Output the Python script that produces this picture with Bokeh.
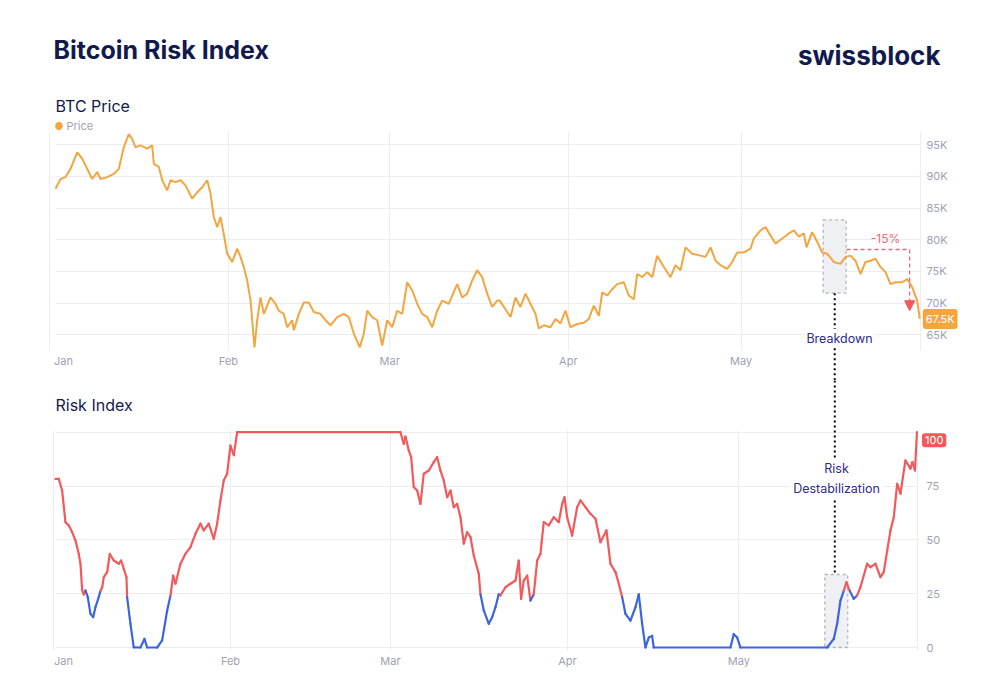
import numpy as np
from bokeh.plotting import figure
from bokeh.models import (Range1d, FixedTicker, CustomJSTickFormatter, Label,
                          BoxAnnotation, Arrow, NormalHead, ColumnDataSource)
from bokeh.layouts import column
from bokeh.embed import file_html
from bokeh.resources import INLINE

# ---------------- data (days since Jan 1) ----------------
month_labels = ["Jan", "Feb", "Mar", "Apr", "May"]
month_days = [0, 31, 59, 90, 120]

price_day = [0.97, 1.84, 2.71, 3.58, 4.74, 5.61, 6.48, 7.34, 8.21, 8.78, 9.95, 11.09, 11.96,
             12.83, 13.70, 14.29, 14.86, 15.73, 16.89, 17.76, 18.04, 18.91, 19.50, 20.36,
             20.94, 21.81, 22.67, 23.54, 24.70, 25.57, 26.44, 27.31, 27.88, 28.45, 29.05,
             29.62, 30.19, 30.78, 31.65, 32.52, 33.09, 33.66, 34.25, 34.83, 35.52, 35.99,
             36.56, 37.14, 38.30, 39.17, 39.74, 40.61, 41.20, 42.07, 42.34, 43.21, 44.08,
             44.95, 45.82, 46.98, 47.85, 48.72, 49.88, 51.02, 51.89, 52.76, 53.80, 54.50,
             55.09, 55.95, 56.82, 57.69, 58.56, 59.43, 60.30, 61.16, 62.03, 62.90, 63.77,
             64.64, 65.50, 66.37, 67.24, 68.11, 69.25, 70.71, 71.58, 72.45, 73.32, 74.18,
             75.05, 75.92, 76.79, 77.66, 78.10, 79.97, 80.83, 81.70, 82.57, 83.44, 84.31,
             84.88, 85.75, 86.91, 87.78, 88.65, 89.51, 90.38, 91.55, 92.69, 93.56, 94.43,
             95.30, 95.89, 96.75, 97.62, 98.49, 99.64, 100.50, 101.37, 101.96, 102.83,
             103.70, 104.57, 105.43, 106.58, 107.74, 108.61, 109.48, 110.35, 111.51,
             112.95, 113.82, 114.69, 115.56, 116.42, 117.59, 118.45, 119.32, 120.47,
             121.63, 122.20, 123.37, 124.24, 125.10, 125.97, 127.14, 128.28, 129.15,
             130.02, 130.89, 131.35, 132.34, 133.21, 134.08, 134.95, 136.10, 137.26,
             138.13, 139.00, 139.86, 140.73, 141.60, 142.47, 143.33, 144.20, 145.07,
             145.94, 146.81, 147.97, 148.84, 149.71, 150.57, 151.02]
price_k = [88.05, 89.6, 89.9, 91.2, 93.8, 92.8, 91.2, 89.6, 90.7, 89.6, 89.9, 90.4, 91.2,
           94.6, 96.7, 95.9, 94.6, 94.9, 94.4, 94.9, 92.0, 91.5, 89.4, 87.8,
           89.4, 89.1, 89.4, 88.6, 86.5, 87.5, 88.3, 89.4, 87.3, 83.6, 82.0,
           83.6, 80.9, 77.8, 76.5, 78.6, 77.3, 75.7, 73.6, 70.4, 63.0, 67.3,
           70.9, 68.3, 70.9, 69.9, 68.8, 68.3, 66.2, 67.3, 65.7, 68.3, 70.1,
           70.1, 68.6, 68.3, 67.3, 66.5, 67.8, 68.3, 67.8, 65.2, 63.0, 65.2,
           68.8, 67.8, 67.3, 63.3, 67.3, 66.2, 68.8, 68.3, 73.3, 72.0, 69.9,
           68.3, 67.8, 66.2, 68.8, 70.4, 69.9, 73.0, 70.9, 71.5, 73.6, 75.2,
           74.1, 71.5, 69.4, 70.4, 70.4, 67.8, 70.9, 69.4, 71.5, 69.9, 68.3,
           66.0, 66.5, 66.2, 67.5, 66.8, 68.8, 66.2, 66.7, 66.9, 67.5, 69.6,
           68.0, 71.7, 71.2, 72.2, 73.0, 73.3, 71.2, 70.6, 74.6, 74.1,
           74.9, 74.1, 77.5, 75.7, 74.1, 76.0, 75.2, 78.8, 77.8,
           77.5, 77.3, 78.8, 76.7, 76.0, 75.4, 76.5, 78.0, 78.0,
           78.6, 80.2, 81.5, 82.0, 80.7, 79.4, 80.2, 81.0, 81.5,
           80.5, 81.0, 78.8, 81.2, 79.7, 78.0, 77.8, 76.5, 76.2,
           77.3, 77.5, 76.7, 74.6, 76.5, 76.7, 77.0, 75.7, 74.9,
           73.0, 73.3, 73.3, 73.8, 72.5, 70.4, 67.5]

risk_day = [0.35, 0.93, 1.52, 2.10, 2.68, 3.27, 3.85, 4.43, 4.73, 5.03, 5.31, 5.60, 6.01,
            6.48, 6.95, 7.35, 7.93, 8.23, 8.53, 8.81, 9.40, 9.86, 10.56, 11.43, 11.85,
            12.31, 12.78, 12.90, 13.48, 14.06, 15.23, 15.93, 16.41, 18.16, 19.03, 19.91,
            20.49, 20.96, 21.36, 22.24, 23.11, 23.99, 24.86, 25.74, 26.32, 27.19, 28.07,
            28.66, 29.24, 29.82, 30.41, 30.99, 31.57, 32.17, 60.76, 61.34, 61.64, 62.21,
            62.63, 63.09, 63.68, 64.26, 64.84, 65.72, 66.59, 67.19, 67.76, 68.34, 68.94,
            69.51, 70.09, 70.69, 71.27, 71.84, 72.44, 73.02, 73.60, 74.47, 74.77, 75.35,
            76.22, 76.82, 77.39, 77.97, 78.27, 79.15, 80.02, 80.90, 81.47, 81.89, 82.35,
            82.95, 83.52, 84.10, 84.70, 85.27, 85.85, 86.73, 87.60, 88.48, 89.07, 89.48,
            89.95, 90.82, 91.70, 92.28, 93.15, 94.03, 94.91, 95.78, 96.83, 97.53, 98.41,
            98.99, 99.58, 100.16, 101.03, 101.91, 102.49, 103.08, 103.66, 104.24, 104.83,
            105.11, 118.54, 119.12, 119.72, 120.29, 135.47, 136.63, 137.22, 137.80, 138.38,
            138.85, 139.43, 140.13, 140.72, 141.30, 142.47, 143.05, 143.93, 144.80, 145.38,
            145.99, 146.56, 147.14, 147.73, 148.31, 149.18, 150.06, 150.40, 150.85, 151.20]
risk_val = [78.3, 78.3, 72.9, 58.2, 56.7, 53.6, 49.7, 43.5, 38.9, 26.5, 24.6, 26.5, 23.4,
            15.6, 14.1, 18.7, 23.4, 26.3, 28.0, 32.7, 35.0, 43.5, 40.4, 38.9, 40.4,
            36.5, 32.7, 23.4, 11.0, 0.1, 0.0, 4.0, 0.0, 0.0, 3.3, 17.2,
            24.1, 33.4, 29.6, 38.9, 43.5, 46.6, 52.8, 57.5, 54.4, 57.5, 50.5,
            57.5, 68.3, 77.6, 80.7, 93.8, 89.3, 100.0, 100.0, 94.6, 98.0, 91.5,
            88.4, 74.5, 72.9, 66.7, 80.7, 82.2, 86.1, 88.4, 82.2, 77.6, 69.8,
            72.9, 65.2, 66.7, 60.5, 48.2, 53.6, 51.3, 42.7, 34.2, 24.7, 17.2,
            11.0, 14.1, 18.7, 24.7, 24.2, 28.0, 29.6, 31.1, 40.4, 22.6, 31.1,
            33.4, 21.8, 24.7, 40.4, 43.5, 58.2, 56.7, 60.5, 58.2, 66.7, 69.8,
            60.5, 52.0, 65.2, 68.3, 65.2, 62.1, 59.8, 48.9, 54.4, 38.9, 35.0,
            29.6, 23.4, 15.6, 12.5, 18.7, 24.7, 11.0, 0.0, 4.6, 5.4,
            0.0, 0.0, 6.2, 4.6, 0.0, 0.0, 4.0, 11.0, 21.8, 26.3,
            30.3, 26.3, 22.6, 24.2, 28.0, 38.9, 37.3, 38.9, 32.7, 35.0,
            45.0, 54.4, 60.5, 76.0, 71.4, 86.9, 83.1, 86.1, 82.2, 100.0]

price_ticks = [65, 70, 75, 80, 85, 90, 95]
risk_ticks = [0, 25, 50, 75, 100]
risk_threshold = 25

# annotation windows (data units)
breakdown_days = (134.25, 138.25)
breakdown_price = (71.57, 83.16)
destab_days = (135.05, 139.08)
destab_risk = (0.0, 33.9)
drop_days = (138.3, 149.26)
drop_price = (78.47, 68.8)

# ---------------- style / layout ----------------
FONT = "Inter"
NAVY = "#111a4d"
INDIGO = "#2d2a8c"
ORANGE = "#f3a640"
RED = "#f2595a"
BLUE = "#3b64e0"
PINK = "#e9697c"
GRAY = "#9ea2b4"
GRID = "#ececf1"
W = 992
TOP_H = 380
BOT_H = 300

# page-pixel <-> data helpers (chart areas: x 55..920, price y 132..350, risk y 430..650)
def tx(px): return (px - 49.4) / 5.76
def ty(py): return 95 - (py - 144.3) / 6.333
def bx(px): return (px - 52.96) / 5.711
def by(py): return (647 - py) / 2.153   # py on page; bottom figure starts at TOP_H

def make_fig(height, xr, yr, area_x, area_y, yticks, yfmt, label_px):
    p = figure(width=W, height=height, x_range=Range1d(*xr), y_range=Range1d(*yr),
               y_axis_location="right", toolbar_location=None, output_backend="svg",
               min_border=0, min_border_left=0, min_border_right=0,
               min_border_top=0, min_border_bottom=0)
    p.outline_line_color = None
    tick_pos = [max(d, area_x[0] + 1.4) for d in month_days]
    p.xaxis.ticker = FixedTicker(ticks=tick_pos)
    p.xaxis.formatter = CustomJSTickFormatter(
        args=dict(pos=tick_pos, labels=month_labels),
        code="let b=0; for (let i=0;i<pos.length;i++){ if (Math.abs(pos[i]-tick)<Math.abs(pos[b]-tick)) b=i; } return labels[b];")
    p.yaxis.ticker = FixedTicker(ticks=yticks)
    p.yaxis.formatter = CustomJSTickFormatter(code=yfmt)
    for ax in (p.xaxis, p.yaxis):
        ax.major_tick_line_color = None
        ax.minor_tick_line_color = None
        ax.axis_line_color = None
        ax.major_label_text_color = GRAY
        ax.major_label_text_font = FONT
        ax.major_label_text_font_size = "11px"
    p.xaxis.major_label_standoff = -33
    p.yaxis.major_label_standoff = -label_px
    p.xgrid.ticker = FixedTicker(ticks=month_days + [area_x[1]])
    p.xgrid.cross_bounds = area_y
    p.ygrid.cross_bounds = area_x
    p.xgrid.grid_line_color = GRID
    p.ygrid.grid_line_color = GRID
    return p

# ---------------- price figure ----------------
p_area_x = (tx(55), tx(920))
p_area_y = (ty(350), ty(132))
p1 = make_fig(TOP_H, (tx(0), tx(W)), (ty(TOP_H), ty(0)), p_area_x, p_area_y,
              price_ticks, "return tick.toFixed(0) + 'K';", W - 920)

p1.add_layout(BoxAnnotation(left=breakdown_days[0], right=breakdown_days[1],
                            bottom=breakdown_price[0], top=breakdown_price[1],
                            fill_color="#eef0f4", fill_alpha=1, line_color="#222222",
                            line_dash="3 3", line_width=1.3, level="underlay"))
p1.line(price_day, price_k, line_color=ORANGE, line_width=2)

cx1 = (breakdown_days[0] + breakdown_days[1]) / 2
p1.add_layout(Arrow(x_start=cx1, y_start=breakdown_price[0], x_end=cx1, y_end=ty(TOP_H),
                    end=None, line_color="black", line_dash="2 3", line_width=2))
p1.add_layout(Arrow(x_start=drop_days[0], y_start=drop_price[0], x_end=drop_days[1],
                    y_end=drop_price[0], end=None, line_color=PINK, line_dash="4 3",
                    line_width=1.3))
p1.add_layout(Arrow(x_start=drop_days[1], y_start=drop_price[0], x_end=drop_days[1],
                    y_end=drop_price[1], line_color=PINK, line_dash="4 3", line_width=1.3,
                    end=NormalHead(size=10, fill_color=RED, line_color=RED, line_width=1)))
p1.add_layout(Label(x=(drop_days[0] + drop_days[1]) / 2 + 1.3, y=drop_price[0], y_offset=11,
                    text="-15%", text_color=PINK, text_font=FONT, text_font_size="12px",
                    text_align="center", text_baseline="middle"))
p1.add_layout(Label(x=tx(839), y=ty(338), text="Breakdown",
                    text_color=INDIGO, text_font=FONT, text_font_size="12.5px",
                    text_align="center", text_baseline="middle",
                    background_fill_color="white", padding=2))
p1.add_layout(Label(x=price_day[-1], y=price_k[-1], x_offset=3,
                    text=f"{price_k[-1]:.1f}K", text_color="white", text_font=FONT,
                    text_font_size="11px", text_align="left", text_baseline="middle",
                    background_fill_color=ORANGE, padding=3, border_radius=3))

# header and titles
p1.add_layout(Label(x=tx(53), y=ty(49), text="Bitcoin Risk Index", text_color=NAVY,
                    text_font=FONT, text_font_style="bold", text_font_size="25px",
                    text_baseline="middle"))
p1.add_layout(Label(x=tx(940), y=ty(55), text="swissblock", text_color=NAVY,
                    text_font=FONT, text_font_style="bold", text_font_size="26px",
                    text_align="right", text_baseline="middle"))
p1.add_layout(Label(x=tx(55), y=ty(105), text="BTC Price", text_color=NAVY,
                    text_font=FONT, text_font_size="16px", text_baseline="middle"))
p1.add_layout(Label(x=tx(54), y=ty(125), text="●", text_color=ORANGE, text_font=FONT,
                    text_font_size="10px", text_baseline="middle"))
p1.add_layout(Label(x=tx(66), y=ty(125), text="Price", text_color=GRAY, text_font=FONT,
                    text_font_size="11px", text_baseline="middle"))

# ---------------- risk figure ----------------
r_area_x = (bx(55), bx(917))
r_area_y = (by(650), by(430))
p2 = make_fig(BOT_H, (bx(0), bx(W)), (by(TOP_H + BOT_H), by(TOP_H)), r_area_x, r_area_y,
              risk_ticks, "return tick >= 100 ? '' : tick.toFixed(0);", W - 920)

p2.add_layout(BoxAnnotation(left=destab_days[0], right=destab_days[1],
                            bottom=destab_risk[0], top=destab_risk[1],
                            fill_color="#eef0f4", fill_alpha=1, line_color="#222222",
                            line_dash="3 3", line_width=1.3, level="underlay"))

rd = np.array(risk_day)
rv = np.array(risk_val)
seg_color = np.where((rv[:-1] + rv[1:]) / 2 > risk_threshold, RED, BLUE)
src = ColumnDataSource(dict(x0=rd[:-1], y0=rv[:-1], x1=rd[1:], y1=rv[1:], c=seg_color))
p2.segment("x0", "y0", "x1", "y1", source=src, line_color="c", line_width=2.2,
           line_cap="round")

cx2 = bx(834.3)
p2.add_layout(Arrow(x_start=cx2, y_start=by(TOP_H), x_end=cx2, y_end=destab_risk[1],
                    end=None, line_color="black", line_dash="2 3", line_width=2))
p2.add_layout(Label(x=bx(836), y=by(478.3), text="Risk\nDestabilization", text_color=INDIGO,
                    text_font=FONT, text_font_size="12.5px", text_align="center",
                    text_baseline="middle", text_line_height=1.35,
                    background_fill_color="white", padding=3))
p2.add_layout(Label(x=risk_day[-1], y=risk_val[-1], x_offset=5, y_offset=-8,
                    text=f"{risk_val[-1]:.0f}", text_color="white", text_font=FONT,
                    text_font_size="11px", text_align="left", text_baseline="middle",
                    background_fill_color=RED, padding=3, border_radius=3))
p2.add_layout(Label(x=bx(55), y=by(404), text="Risk Index", text_color=NAVY,
                    text_font=FONT, text_font_size="16px", text_baseline="middle"))

layout = column(p1, p2, spacing=0)
open("out.html", "w").write(file_html(layout, INLINE))
